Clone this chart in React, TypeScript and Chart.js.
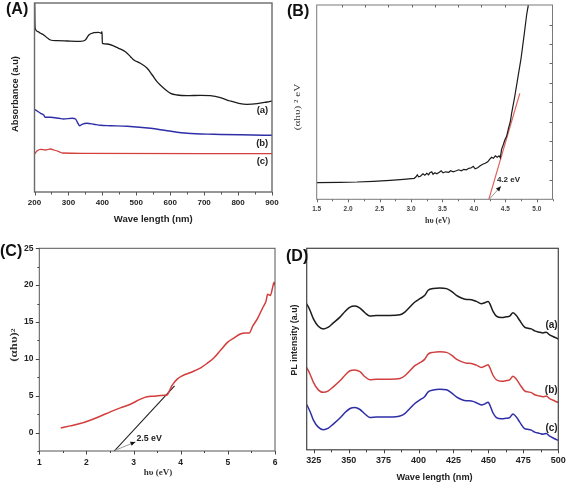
import React, { useEffect, useRef } from "react";
import { Chart, registerables } from "chart.js";
Chart.register(...registerables);

const W = 567;
const H = 485;
const SANS = '"Liberation Sans", Arial, sans-serif';
const SERIF = '"Liberation Serif", "Times New Roman", serif';

type P = [number, number];

// ---------- Panel A : absorbance ----------
const A_TICKS = [200, 300, 400, 500, 600, 700, 800, 900];
const A_MINOR = [250, 350, 450, 550, 650, 750, 850];
const A_a: P[] = [
  [200.3, 200], [201, 175], [202, 163.7], [210, 160.3], [218, 158.7], [227, 157], [247, 152], [267, 151.3],
  [296, 151], [335, 150.7], [350, 152], [360, 157], [375, 159.3], [389, 159.7], [397, 158.7],
  [399, 160.3], [400, 148.7], [414, 148], [448, 143.7], [468, 140.3], [483, 135.3], [493, 132],
  [512, 128.7], [532, 123.7], [547, 117], [561, 110.3], [581, 103.7], [601, 98.7], [620, 97],
  [650, 96.3], [689, 96.7], [718, 96.3], [748, 94.3], [777, 91], [802, 88.7], [826, 87.7],
  [856, 88.3], [885, 90], [900, 91],
];
const A_b: P[] = [
  [200, 82.7], [208, 81], [218, 78.7], [227, 77], [232, 74.7], [247, 74.7], [272, 73.7], [286, 73],
  [311, 73.7], [321, 73], [328, 68.7], [333, 66.3], [340, 67.7], [355, 68.7], [375, 67.7],
  [394, 66.7], [424, 66.3], [473, 65.7], [542, 63.7], [591, 61.3], [650, 58.7], [728, 57.7], [900, 56.7],
];
const A_c: P[] = [
  [200, 38], [208, 41.3], [218, 42.7], [232, 42], [247, 43], [257, 42], [272, 40.3], [282, 39],
  [345, 38.7], [900, 38.3],
];

// ---------- Panel B : Tauc plot ----------
const B_TICKS = [1.5, 2.0, 2.5, 3.0, 3.5, 4.0, 4.5, 5.0];
const B_MINOR = [1.75, 2.25, 2.75, 3.25, 3.75, 4.25, 4.75, 5.25];
const B_RIGHT_TICKS = [19.3, 39, 58.3, 77.6, 97, 116.6, 136, 155, 174.3];
const B_TOP_TICKS = [1.9, 2.27, 2.64, 3.01, 3.38, 3.75, 4.12, 4.49, 4.86];
const B_curve: P[] = [
  [1.5, 16.7], [1.87, 17], [2.14, 17.3], [2.4, 18], [2.67, 19], [2.88, 20], [3.05, 21], [3.08, 22.5],
  [3.1, 24.5], [3.12, 22.5], [3.15, 23], [3.19, 25.5], [3.22, 24], [3.25, 26], [3.28, 24.5],
  [3.3, 26.5], [3.33, 27.5], [3.35, 25], [3.38, 26.5], [3.41, 25.5], [3.45, 27], [3.48, 28.5],
  [3.51, 26.5], [3.55, 27.5], [3.6, 27], [3.63, 28.5], [3.67, 27.5], [3.72, 28.5], [3.76, 29.5],
  [3.8, 28.5], [3.84, 30], [3.88, 29.5], [3.92, 31], [3.96, 31.5], [3.99, 33], [4.02, 30.5],
  [4.06, 31.5], [4.1, 33.5], [4.14, 35], [4.18, 36], [4.22, 37.5], [4.25, 40], [4.28, 42],
  [4.31, 41], [4.34, 43.5], [4.37, 42], [4.4, 43.5], [4.42, 41.5], [4.44, 50], [4.47, 55],
  [4.49, 59], [4.52, 63], [4.55, 71], [4.58, 78], [4.6, 86], [4.65, 103], [4.7, 122], [4.75, 141],
  [4.8, 165], [4.84, 185], [4.87, 196],
];
const B_fit: P[] = [[4.237, 0], [4.73, 106]];

// ---------- Panel C : Tauc plot ----------
const C_XTICKS = [1, 2, 3, 4, 5, 6];
const C_XMINOR = [1.5, 2.5, 3.5, 4.5, 5.5];
const C_YTICKS = [0, 5, 10, 15, 20, 25];
const C_YMINOR = [-2.5, 2.5, 7.5, 12.5, 17.5, 22.5];
const C_curve: P[] = [
  [1.455, 0.63], [1.653, 0.91], [1.866, 1.22], [2.08, 1.68], [2.293, 2.22], [2.506, 2.81],
  [2.719, 3.35], [2.932, 3.85], [3.145, 4.53], [3.287, 4.85], [3.429, 4.94], [3.571, 5.03],
  [3.713, 5.1], [3.749, 5.53], [3.82, 6.43], [3.926, 7.25], [4.033, 7.7], [4.21, 8.15],
  [4.423, 8.79], [4.565, 9.42], [4.707, 10.14], [4.849, 11.19], [4.991, 12.23], [5.134, 12.86],
  [5.276, 13.41], [5.382, 13.5], [5.453, 13.5], [5.524, 14.4], [5.631, 15.5], [5.737, 16.9],
  [5.808, 17.8], [5.844, 18.75], [5.901, 18.6], [5.95, 19.7], [5.979, 20.4], [6.0, 20.0],
];
const C_fit: P[] = [[2.59, -2.5], [3.87, 6.34]];

// ---------- Panel D : PL ----------
const D_TICKS = [325, 350, 375, 400, 425, 450, 475, 500];
const D_MINOR = [337.5, 362.5, 387.5, 412.5, 437.5, 462.5, 487.5];
const D_a: P[] = [
  [320, 145], [322.4, 138.3], [324.8, 130], [328.3, 122.7], [331.9, 120], [335.5, 121.7], [339, 126],
  [343.8, 131.7], [347.4, 137.3], [351, 141.7], [354.5, 142.7], [358.1, 140.7], [361.7, 136],
  [365.2, 132.7], [370, 133.3], [379.5, 133.3], [386.7, 134], [390.2, 136.7], [393.8, 141.7],
  [397.4, 146.7], [401, 150], [404.5, 153.3], [406.9, 158.3], [410.5, 160], [415.2, 160.7],
  [420, 160], [423.6, 157.3], [427.1, 153.3], [430.7, 150.7], [434.3, 149.3], [437.9, 149],
  [441.4, 147.3], [445, 145], [447.4, 146], [449.8, 147.3], [451, 145], [453.3, 137.3],
  [455.7, 132.7], [459.3, 131.3], [462.9, 132], [465.2, 132.7], [467.6, 136], [470, 133.3],
  [472.4, 128.3], [475.9, 121.7], [478.3, 120.7], [480.7, 120], [483.1, 118], [486.7, 116.7],
  [489, 116], [491.4, 116.7], [493.8, 114], [497.4, 111.7], [500, 110],
];
const D_b: P[] = [
  [320, 81.7], [322.4, 75], [324.8, 67], [328.3, 59.5], [331.9, 57], [335.5, 58.5], [339, 62.5],
  [343.8, 68.5], [347.4, 74], [351, 78.5], [354.5, 79.3], [358.1, 77.5], [361.7, 72.5],
  [365.2, 69.5], [370, 70], [379.5, 70], [386.7, 70.7], [390.2, 73.5], [393.8, 78.5],
  [397.4, 83.5], [401, 86.5], [404.5, 90], [406.9, 95], [410.5, 96.7], [415.2, 97.3],
  [420, 96.7], [423.6, 94], [427.1, 90], [430.7, 87.5], [434.3, 86], [437.9, 85.7],
  [441.4, 84], [445, 81.7], [447.4, 83], [449.8, 84.5], [451, 81.5], [453.3, 74],
  [455.7, 69.5], [459.3, 68], [462.9, 68.7], [465.2, 69.5], [467.6, 73], [470, 70],
  [472.4, 65], [475.9, 58.5], [478.3, 57.5], [480.7, 56.7], [483.1, 54.7], [486.7, 53.3],
  [489, 52.7], [491.4, 53.3], [493.8, 50.7], [497.4, 48.5], [500, 47],
];
const D_c: P[] = [
  [320, 45], [322.4, 38], [324.8, 29.5], [328.3, 22.5], [331.9, 20], [335.5, 21.5], [339, 25.5],
  [343.8, 31.5], [347.4, 37], [351, 41], [354.5, 42], [358.1, 40], [361.7, 35.5],
  [365.2, 32], [370, 32.5], [379.5, 32.5], [386.7, 33.5], [390.2, 36], [393.8, 41],
  [397.4, 46], [401, 49.5], [404.5, 53], [406.9, 57.5], [410.5, 59.3], [415.2, 60],
  [420, 59.5], [423.6, 56.5], [427.1, 52.5], [430.7, 50], [434.3, 48.7], [437.9, 48.5],
  [441.4, 46.7], [445, 44.5], [447.4, 45.5], [449.8, 47.3], [451, 44.5], [453.3, 36.5],
  [455.7, 32], [459.3, 30.7], [462.9, 31.3], [465.2, 32], [467.6, 35.5], [470, 32.5],
  [472.4, 27.5], [475.9, 21], [478.3, 20.3], [480.7, 19.5], [483.1, 17.5], [486.7, 16.3],
  [489, 15.5], [491.4, 16.2], [493.8, 13.5], [497.4, 11], [500, 9.3],
];

// ---------- drawing helpers ----------
type Area = { left: number; right: number; top: number; bottom: number };

function frame(ctx: CanvasRenderingContext2D, a: Area, color: string, lw: number) {
  ctx.strokeStyle = color;
  ctx.lineWidth = lw;
  ctx.strokeRect(a.left, a.top, a.right - a.left, a.bottom - a.top);
}
function xTicks(ctx: CanvasRenderingContext2D, xs: any, y: number, vals: number[], len: number, color: string) {
  ctx.strokeStyle = color;
  ctx.lineWidth = 1;
  ctx.beginPath();
  vals.forEach((v) => {
    const px = Math.round(xs.getPixelForValue(v)) + 0.5;
    ctx.moveTo(px, y);
    ctx.lineTo(px, y + len);
  });
  ctx.stroke();
}
function yTicks(ctx: CanvasRenderingContext2D, ys: any, x: number, vals: number[], len: number, color: string) {
  ctx.strokeStyle = color;
  ctx.lineWidth = 1;
  ctx.beginPath();
  vals.forEach((v) => {
    const py = Math.round(ys.getPixelForValue(v)) + 0.5;
    ctx.moveTo(x, py);
    ctx.lineTo(x + len, py);
  });
  ctx.stroke();
}
function text(
  ctx: CanvasRenderingContext2D, s: string, x: number, y: number, font: string, color: string,
  align: CanvasTextAlign = "center", baseline: CanvasTextBaseline = "middle"
) {
  ctx.font = font;
  ctx.fillStyle = color;
  ctx.textAlign = align;
  ctx.textBaseline = baseline;
  ctx.fillText(s, x, y);
}
function vtext(ctx: CanvasRenderingContext2D, s: string, x: number, y: number, font: string, color: string, stretch = 1) {
  ctx.save();
  ctx.translate(x, y);
  ctx.rotate(-Math.PI / 2);
  ctx.scale(stretch, 1);
  text(ctx, s, 0, 0, font, color);
  ctx.restore();
}
function arrow(ctx: CanvasRenderingContext2D, x0: number, y0: number, x1: number, y1: number) {
  ctx.strokeStyle = "#9a9a9a";
  ctx.lineWidth = 1;
  ctx.beginPath();
  ctx.moveTo(x0, y0);
  ctx.lineTo(x1, y1);
  ctx.stroke();
  const ang = Math.atan2(y1 - y0, x1 - x0);
  const L = 5, Wd = 2.2;
  ctx.fillStyle = "#111";
  ctx.beginPath();
  ctx.moveTo(x1, y1);
  ctx.lineTo(x1 - L * Math.cos(ang) + Wd * Math.sin(ang), y1 - L * Math.sin(ang) - Wd * Math.cos(ang));
  ctx.lineTo(x1 - L * Math.cos(ang) - Wd * Math.sin(ang), y1 - L * Math.sin(ang) + Wd * Math.cos(ang));
  ctx.closePath();
  ctx.fill();
}

type Deco = (ctx: CanvasRenderingContext2D, xs: any, ys: any, a: Area) => void;

type PanelCfg = {
  area: Area;
  x: [number, number];
  y: [number, number];
  datasets: any[];
  deco: Deco;
};

const line = (data: P[], color: string, width: number, smooth = true) => ({
  type: "line",
  data: data.map(([x, y]) => ({ x, y })),
  borderColor: color,
  borderWidth: width,
  pointRadius: 0,
  fill: false,
  tension: smooth ? 0.4 : 0,
  cubicInterpolationMode: smooth ? "monotone" : "default",
});

const panels: PanelCfg[] = [
  {
    area: { left: 34.5, right: 272, top: 3, bottom: 192 },
    x: [200, 900],
    y: [0, 189],
    datasets: [line(A_a, "#1c1c1c", 1.3), line(A_b, "#2e2ea8", 1.4), line(A_c, "#d4403c", 1.3)],
    deco: (ctx, xs, ys, a) => {
      frame(ctx, a, "#6a6a6a", 1.4);
      xTicks(ctx, xs, a.bottom, A_TICKS, 3.5, "#555");
      xTicks(ctx, xs, a.bottom, A_MINOR, 2.5, "#555");
      A_TICKS.forEach((v) => text(ctx, String(v), xs.getPixelForValue(v), 203, `bold 8px ${SANS}`, "#222"));
      text(ctx, "Wave length (nm)", (a.left + a.right) / 2, 219.5, `bold 9.5px ${SANS}`, "#222");
      vtext(ctx, "Absorbance (a.u)", 15, 94, `bold 9.3px ${SANS}`, "#222");
      const lf = `bold 9.5px ${SANS}`;
      text(ctx, "(a)", xs.getPixelForValue(889), ys.getPixelForValue(82), lf, "#222", "right");
      text(ctx, "(b)", xs.getPixelForValue(889), ys.getPixelForValue(48.7), lf, "#222", "right");
      text(ctx, "(c)", xs.getPixelForValue(889), ys.getPixelForValue(30.3), lf, "#222", "right");
      text(ctx, "(A)", 6, 10, `bold 16px ${SANS}`, "#111", "left");
    },
  },
  {
    area: { left: 316.7, right: 552.5, top: 5, bottom: 199.3 },
    x: [1.5, 5.25],
    y: [0, 194.3],
    datasets: [line(B_curve, "#1c1c1c", 1.2, false), line(B_fit, "#e0605a", 1.2, false)],
    deco: (ctx, xs, ys, a) => {
      frame(ctx, a, "#7a7a7a", 1);
      xTicks(ctx, xs, a.bottom, B_TICKS, 3, "#666");
      xTicks(ctx, xs, a.bottom, B_MINOR, 2, "#666");
      xTicks(ctx, xs, a.top, B_TOP_TICKS, 2.5, "#666");
      yTicks(ctx, ys, a.right, B_RIGHT_TICKS, -3, "#666");
      B_TICKS.forEach((v) => text(ctx, v.toFixed(1), xs.getPixelForValue(v), 209.3, `bold 6.5px ${SANS}`, "#444"));
      text(ctx, "h\u03c5 (eV)", (a.left + a.right) / 2 + 3, 221, `bold 8px ${SERIF}`, "#333");
      vtext(ctx, "(\u03b1h\u03c5) \u00b2 eV", 297.5, 107, `8px ${SERIF}`, "#333", 1.4);
      const p0x = xs.getPixelForValue(4.25), p0y = ys.getPixelForValue(0.5);
      const p1x = xs.getPixelForValue(4.43), p1y = ys.getPixelForValue(13);
      arrow(ctx, p0x, p0y, p1x, p1y);
      text(ctx, "4.2 eV", xs.getPixelForValue(4.55), ys.getPixelForValue(19.5), `bold 8px ${SANS}`, "#222");
      text(ctx, "(B)", 287, 12, `bold 16px ${SANS}`, "#111", "left");
    },
  },
  {
    area: { left: 39.3, right: 275, top: 248.3, bottom: 451 },
    x: [1, 6],
    y: [-2.5, 25],
    datasets: [line(C_curve, "#d43c3c", 1.5), line(C_fit, "#1c1c1c", 1.1, false)],
    deco: (ctx, xs, ys, a) => {
      frame(ctx, a, "#555", 1);
      xTicks(ctx, xs, a.bottom, C_XTICKS, 3.5, "#444");
      xTicks(ctx, xs, a.bottom, C_XMINOR, 2, "#444");
      yTicks(ctx, ys, a.left, C_YTICKS, -3.5, "#444");
      yTicks(ctx, ys, a.left, C_YMINOR, -2, "#444");
      C_XTICKS.forEach((v) => text(ctx, String(v), xs.getPixelForValue(v), 462.7, `bold 8.5px ${SANS}`, "#222"));
      C_YTICKS.forEach((v) => text(ctx, String(v), 33.5, ys.getPixelForValue(v), `bold 8.5px ${SANS}`, "#222", "right"));
      text(ctx, "h\u03c5 (eV)", 158, 472.5, `bold 9px ${SERIF}`, "#333");
      vtext(ctx, "(\u03b1h\u03c5)\u00b2", 15, 345, `bold 9.5px ${SERIF}`, "#333", 1.35);
      const p0x = xs.getPixelForValue(2.61), p0y = ys.getPixelForValue(-2.4);
      const p1x = xs.getPixelForValue(3.04), p1y = ys.getPixelForValue(-1.27);
      arrow(ctx, p0x, p0y, p1x, p1y);
      text(ctx, "2.5 eV", xs.getPixelForValue(3.33), ys.getPixelForValue(-0.85), `bold 8.8px ${SANS}`, "#222");
      text(ctx, "(C)", 0, 251.5, `bold 16px ${SANS}`, "#111", "left");
    },
  },
  {
    area: { left: 306.7, right: 558.3, top: 248.3, bottom: 449.8 },
    x: [320, 500],
    y: [0, 200],
    datasets: [line(D_a, "#1c1c1c", 1.5), line(D_b, "#d04040", 1.5), line(D_c, "#2e2ea8", 1.5)],
    deco: (ctx, xs, ys, a) => {
      frame(ctx, a, "#444", 1.2);
      xTicks(ctx, xs, a.bottom, D_TICKS, 3.5, "#444");
      xTicks(ctx, xs, a.bottom, D_MINOR, 2.5, "#444");
      D_TICKS.forEach((v) => text(ctx, String(v), xs.getPixelForValue(v), 460.5, `bold 9px ${SANS}`, "#222"));
      text(ctx, "Wave length (nm)", (a.left + a.right) / 2 + 2, 477.5, `bold 9.2px ${SANS}`, "#222");
      vtext(ctx, "PL intensity (a.u)", 295, 340, `bold 8.8px ${SANS}`, "#222");
      const lf = `bold 10px ${SANS}`;
      text(ctx, "(a)", xs.getPixelForValue(499.5), ys.getPixelForValue(124), lf, "#222", "right");
      text(ctx, "(b)", xs.getPixelForValue(499.5), ys.getPixelForValue(59.3), lf, "#222", "right");
      text(ctx, "(c)", xs.getPixelForValue(499.5), ys.getPixelForValue(21.7), lf, "#222", "right");
      text(ctx, "(D)", 286, 257, `bold 16px ${SANS}`, "#111", "left");
    },
  },
];

function Panel({ cfg }: { cfg: PanelCfg }) {
  const ref = useRef<HTMLCanvasElement | null>(null);
  useEffect(() => {
    if (!ref.current) return;
    const a = cfg.area;
    const chart = new Chart(ref.current, {
      type: "line",
      data: { datasets: cfg.datasets as any },
      options: {
        responsive: false,
        animation: false,
        devicePixelRatio: 1,
        layout: { padding: { left: a.left, top: a.top, right: W - a.right, bottom: H - a.bottom } },
        plugins: { legend: { display: false }, tooltip: { enabled: false } },
        scales: {
          x: { type: "linear", display: false, min: cfg.x[0], max: cfg.x[1] },
          y: { type: "linear", display: false, min: cfg.y[0], max: cfg.y[1] },
        },
      },
      plugins: [
        {
          id: "deco",
          afterDraw(ch: any) {
            const ctx = ch.ctx as CanvasRenderingContext2D;
            ctx.save();
            cfg.deco(ctx, ch.scales.x, ch.scales.y, ch.chartArea);
            ctx.restore();
          },
        },
      ],
    } as any);
    return () => chart.destroy();
  }, [cfg]);
  return (
    <canvas
      ref={ref}
      width={W}
      height={H}
      style={{ position: "absolute", left: 0, top: 0, width: W, height: H }}
    />
  );
}

export default function App() {
  return (
    <div style={{ position: "fixed", left: 0, top: 0, width: W, height: H, background: "#fff", overflow: "hidden" }}>
      {panels.map((p, i) => (
        <Panel key={i} cfg={p} />
      ))}
    </div>
  );
}
